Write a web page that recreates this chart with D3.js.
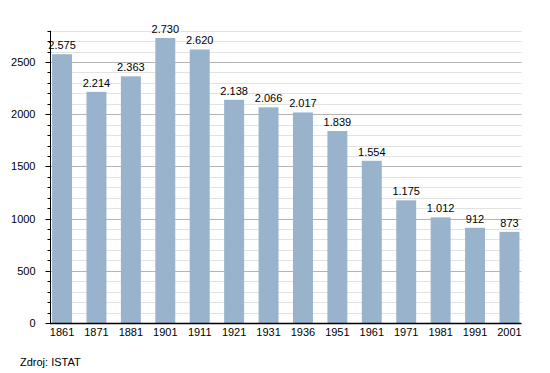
<!DOCTYPE html>
<html>
<head>
<meta charset="utf-8">
<script src="https://cdn.jsdelivr.net/npm/d3@7"></script>
<style>
  body { margin: 0; background: #fff; }
  text { font-family: "Liberation Sans", Arial, sans-serif; fill: #000; }
</style>
</head>
<body>
<div id="chart"></div>
<script>
// dáta: obyvateľstvo podľa rokov sčítania
const years = ["1861", "1871", "1881", "1901", "1911", "1921", "1931", "1936", "1951", "1961", "1971", "1981", "1991", "2001"];
const population = [2575, 2214, 2363, 2730, 2620, 2138, 2066, 2017, 1839, 1554, 1175, 1012, 912, 873];
const yTicks = [0, 500, 1000, 1500, 2000, 2500];
const sourceText = "Zdroj: ISTAT";

(() => {
  const W = 550, H = 373;
  const svg = d3.select("#chart").append("svg")
    .attr("width", W).attr("height", H);

  const x = d3.scaleBand().domain(years).range([50, 521.5]).paddingInner(0.42).paddingOuter(0.06);
  const y = d3.scaleLinear().domain([0, 2800]).range([323, 30.7]);

  const fmt = v => v >= 1000 ? d3.format(",")(v).replace(/,/g, ".") : String(v);

  // mriežka (vedľajšia po 100, hlavná po 500)
  const minor = d3.range(100, 2801, 100).filter(v => v % 500 !== 0);
  svg.append("g").selectAll("line").data(minor).join("line")
    .attr("x1", 50).attr("x2", 521.5)
    .attr("y1", d => Math.round(y(d)) + 0.5).attr("y2", d => Math.round(y(d)) + 0.5)
    .attr("stroke", "#e2e2e2").attr("stroke-width", 1);
  svg.append("g").selectAll("line").data(yTicks.filter(v => v > 0)).join("line")
    .attr("x1", 50).attr("x2", 521.5)
    .attr("y1", d => Math.round(y(d)) + 0.5).attr("y2", d => Math.round(y(d)) + 0.5)
    .attr("stroke", "#b4b4b4").attr("stroke-width", 1);

  // stĺpce
  svg.append("g").selectAll("rect").data(population).join("rect")
    .attr("x", (d, i) => x(years[i]))
    .attr("width", x.bandwidth())
    .attr("y", d => y(d))
    .attr("height", d => y(0) - y(d))
    .attr("fill", "#9ab3cd");

  // hodnoty nad stĺpcami
  svg.append("g").selectAll("text").data(population).join("text")
    .attr("x", (d, i) => x(years[i]) + x.bandwidth() / 2)
    .attr("y", d => y(d) - 5)
    .attr("text-anchor", "middle")
    .attr("font-size", 11)
    .text(d => fmt(d));

  // os Y
  const yAxis = svg.append("g").attr("transform", "translate(50.5,0)");
  yAxis.append("line").attr("y1", y(2800)).attr("y2", y(0)).attr("stroke", "#000");
  yAxis.selectAll(".mt").data(d3.range(0, 2801, 100)).join("line")
    .attr("x1", d => d % 500 === 0 ? -5 : -3).attr("x2", 0)
    .attr("y1", d => Math.round(y(d)) + 0.5).attr("y2", d => Math.round(y(d)) + 0.5)
    .attr("stroke", "#000");
  yAxis.selectAll("text").data(yTicks).join("text")
    .attr("x", -15).attr("y", d => y(d) + 4)
    .attr("text-anchor", "end").attr("font-size", 11)
    .text(d => d);

  // os X
  svg.append("line").attr("x1", 50).attr("x2", 521.5)
    .attr("y1", 323.5).attr("y2", 323.5).attr("stroke", "#000").attr("stroke-width", 1.5);
  svg.append("g").selectAll("text").data(years).join("text")
    .attr("x", d => x(d) + x.bandwidth() / 2)
    .attr("y", 336)
    .attr("text-anchor", "middle").attr("font-size", 11)
    .text(d => d);

  svg.append("text").attr("x", 20).attr("y", 366).attr("font-size", 11).text(sourceText);
})();
</script>
</body>
</html>
